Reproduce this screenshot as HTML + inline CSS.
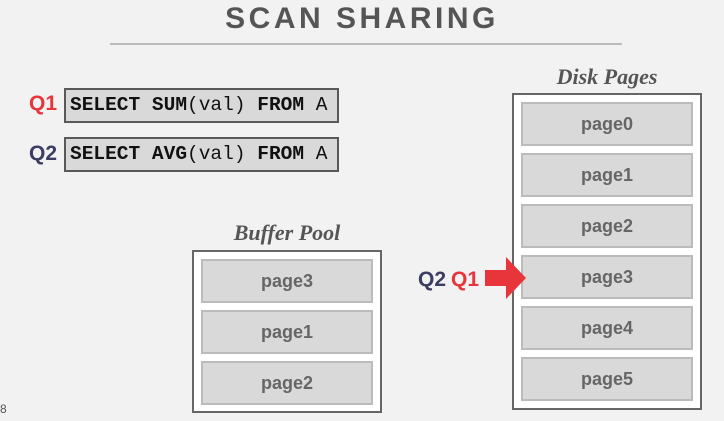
<!DOCTYPE html>
<html><head><style>
body{margin:0;width:724px;height:421px;background:#f2f2f2;position:relative;overflow:hidden;font-family:"Liberation Sans",sans-serif}
.a{position:absolute}
.title{left:0;width:724px;top:2px;text-align:center;font-size:30px;font-weight:bold;letter-spacing:3.5px;color:#555}
.sql{background:#d9d9d9;border:2px solid #595959;box-sizing:border-box;font-family:"Liberation Mono",monospace;font-size:19.5px;color:#111;line-height:31px;padding-left:4px;white-space:nowrap}
.sql b{font-weight:bold}
.q{font-size:21px;font-weight:bold}
.box{background:#fff;border:2px solid #666;box-sizing:border-box}
.pg{background:#d9d9d9;border:2px solid #bbb;box-sizing:border-box;text-align:center;font-size:18px;font-weight:bold;color:#666;line-height:40px}
.lbl{font-family:"Liberation Serif",serif;font-style:italic;font-weight:bold;font-size:22px;color:#555;text-align:center}
</style></head><body>
<div class="a title">SCAN SHARING</div>
<div class="a" style="left:110px;top:43px;width:512px;height:2px;background:#bbb"></div>
<div class="a q" style="left:29px;top:92px;color:#e8353b">Q1</div>
<div class="a q" style="left:29px;top:142px;color:#3b3d63">Q2</div>
<div class="a sql" style="left:64px;top:88px;width:275px;height:35px"><b>SELECT SUM</b>(val) <b>FROM</b> A</div>
<div class="a sql" style="left:64px;top:137px;width:275px;height:35px"><b>SELECT AVG</b>(val) <b>FROM</b> A</div>

<div class="a lbl" style="left:193px;top:220px;width:188px">Buffer Pool</div>
<div class="a box" style="left:192px;top:250px;width:190px;height:163px"></div>
<div class="a pg" style="left:201px;top:259px;width:172px;height:44px">page3</div>
<div class="a pg" style="left:201px;top:310px;width:172px;height:44px">page1</div>
<div class="a pg" style="left:201px;top:361px;width:172px;height:44px">page2</div>

<div class="a lbl" style="left:513px;top:64px;width:188px">Disk Pages</div>
<div class="a box" style="left:512px;top:93px;width:190px;height:317px"></div>
<div class="a pg" style="left:521px;top:102px;width:172px;height:44px">page0</div>
<div class="a pg" style="left:521px;top:153px;width:172px;height:44px">page1</div>
<div class="a pg" style="left:521px;top:204px;width:172px;height:44px">page2</div>
<div class="a pg" style="left:521px;top:255px;width:172px;height:44px">page3</div>
<div class="a pg" style="left:521px;top:306px;width:172px;height:44px">page4</div>
<div class="a pg" style="left:521px;top:357px;width:172px;height:44px">page5</div>

<div class="a q" style="left:418px;top:268px;color:#3b3d63">Q2</div>
<div class="a q" style="left:451px;top:268px;color:#e8353b">Q1</div>
<svg class="a" style="left:484px;top:256px" width="44" height="44"><polygon points="1,14 22,14 22,1 42,22 22,43 22,30 1,30" fill="#e8353b"/></svg>
<div class="a" style="left:0;top:402px;font-size:12px;color:#555">8</div>
</body></html>
